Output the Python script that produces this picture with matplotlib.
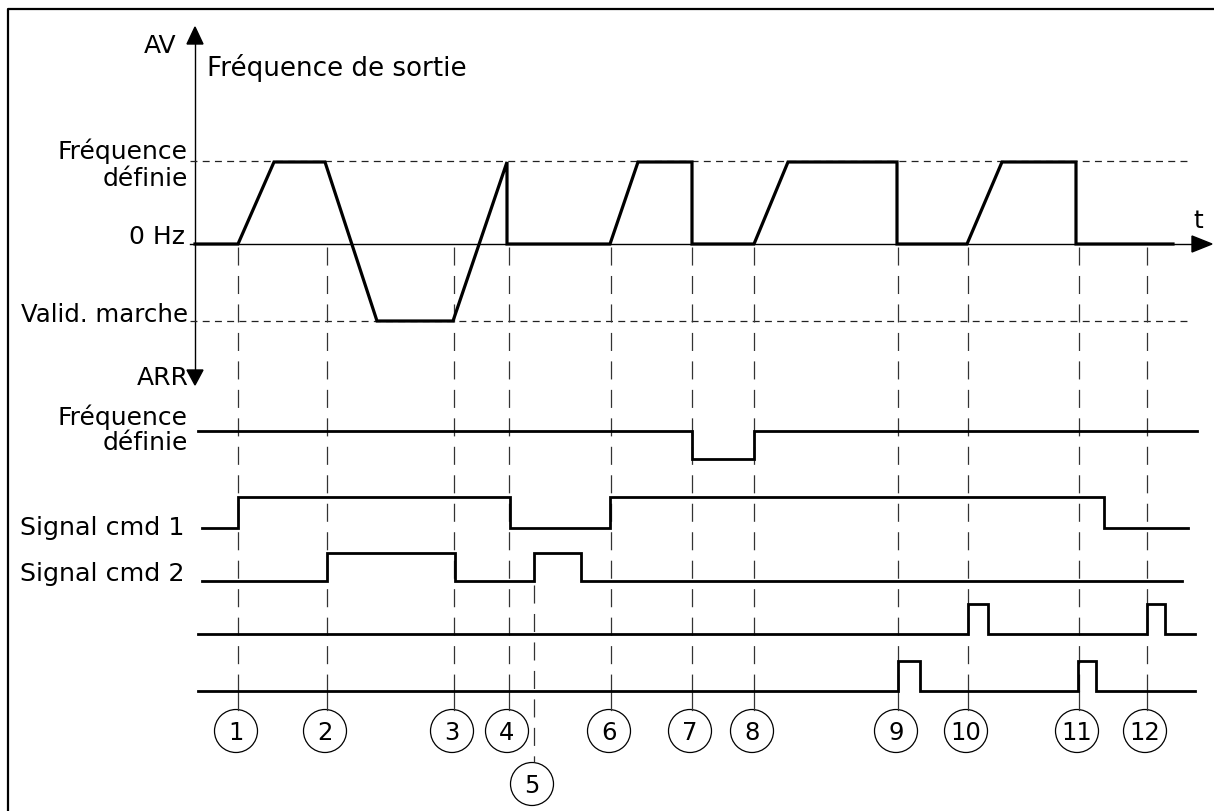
import matplotlib
matplotlib.use("Agg")
import matplotlib.pyplot as plt
from matplotlib.patches import Circle, Polygon

# time axis is in drawing units (left to right), events 1..12
EVENT_T = [238, 327, 454, 509, 534, 611, 692, 754, 898, 968, 1079, 1147]
EVENT_LABELS = ["1", "2", "3", "4", "5", "6", "7", "8", "9", "10", "11", "12"]

# output frequency: +1 = set frequency (AV), 0 = 0 Hz, -1 = reverse (ARR)
OUT_T = [195, 238, 274, 325, 377, 453, 507, 507, 610, 638, 692, 692,
         754, 788, 897, 897, 967, 1002, 1076, 1076, 1173]
OUT_F = [0, 0, 1, 1, -1, -1, 1, 0, 0, 1, 1, 0,
         0, 1, 1, 0, 0, 1, 1, 0, 0]

# digital signals: (start, end, initial state, toggle times)
REF_FREQ = (198, 1197, 1, [692, 754])
CMD1 = (202, 1188, 0, [238, 510, 610, 1104])
CMD2 = (202, 1182, 0, [327, 455, 534, 581])
DI4 = (198, 1195, 0, [968, 988, 1147, 1165])
DI5 = (198, 1195, 0, [898, 920, 1078, 1096])

plt.rcParams['font.family'] = ['DejaVu Sans']
plt.rcParams['lines.scale_dashes'] = False
FS = 18

fig = plt.figure(figsize=(12.14, 8.12), dpi=100)
ax = fig.add_axes([0, 0, 1, 1])
ax.set_xlim(0, 1214)
ax.set_ylim(812, 0)
ax.axis('off')

# frame (left and top edges only)
ax.plot([8, 8, 1214], [812, 10, 10], color='black', lw=1.6, solid_capstyle='butt')

Y0, Y_SET, Y_REV = 245, 163, 322


def freq_y(f):
    return Y0 - (Y0 - Y_SET) * f if f >= 0 else Y0 + (Y_REV - Y0) * (-f)


def step_trace(sig, y_low, y_high):
    start, end, state, toggles = sig
    xs, ys = [start], [y_high if state else y_low]
    for t in toggles:
        xs += [t, t]
        ys += [ys[-1], y_low if ys[-1] == y_high else y_high]
    xs.append(end)
    ys.append(ys[-1])
    return xs, ys


# vertical axis with arrows
ax.plot([195, 195], [44, 372], color='black', lw=1.0)
ax.add_patch(Polygon([[187, 45], [203, 45], [195, 28]], closed=True, color='black'))
ax.add_patch(Polygon([[187, 371], [203, 371], [195, 386]], closed=True, color='black'))

# time axis
ax.plot([190, 1194], [Y0, Y0], color='black', lw=1.0)
ax.add_patch(Polygon([[1192, 237], [1192, 253], [1212, 245]], closed=True, color='black'))

# reference levels
for y in (Y_SET - 1, Y_REV):
    ax.plot([190, 1188], [y, y], color='#222222', lw=0.9, linestyle=(0, (5, 3.8)))

# event markers
for t, lab in zip(EVENT_T, EVENT_LABELS):
    if lab == "5":
        y_top, y_dash_end, cy = 586, 763, 785
    else:
        y_top, y_dash_end, cy = 248, 692, 732
    ax.plot([t, t], [y_top, y_dash_end], color='#333333', lw=0.9,
            linestyle=(0, (13, 7.5)))
    if lab != "5":
        ax.plot([t, t], [692, cy - 21.5], color='#333333', lw=0.9)
    cx = t - 2
    ax.add_patch(Circle((cx, cy), 21.5, fill=False, ec='black', lw=0.9))
    ax.text(cx, cy + 1, lab, ha='center', va='center', fontsize=17.5)

# output frequency trace
ax.plot(OUT_T, [freq_y(f) for f in OUT_F], color='black', lw=2.3,
        solid_joinstyle='miter')

# digital traces
for sig, lo, hi in [(REF_FREQ, 460, 432), (CMD1, 529, 498), (CMD2, 582, 554),
                    (DI4, 635, 605), (DI5, 692, 662)]:
    xs, ys = step_trace(sig, lo, hi)
    ax.plot(xs, ys, color='black', lw=2.0, solid_joinstyle='miter')

# labels
ax.text(176, 53, "AV", ha='right', va='baseline', fontsize=FS)
ax.text(207, 76, "Fréquence de sortie", ha='left', va='baseline', fontsize=18.8)
ax.text(188, 159, "Fréquence", ha='right', va='baseline', fontsize=FS)
ax.text(188, 186, "définie", ha='right', va='baseline', fontsize=FS)
ax.text(185, 244, "0 Hz", ha='right', va='baseline', fontsize=FS)
ax.text(188, 322, "Valid. marche", ha='right', va='baseline', fontsize=17.6)
ax.text(189, 385, "ARR", ha='right', va='baseline', fontsize=FS)
ax.text(188, 425, "Fréquence", ha='right', va='baseline', fontsize=FS)
ax.text(188, 450, "définie", ha='right', va='baseline', fontsize=FS)
ax.text(185, 535, "Signal cmd 1", ha='right', va='baseline', fontsize=18.3)
ax.text(185, 581, "Signal cmd 2", ha='right', va='baseline', fontsize=18.3)
ax.text(1198, 228, "t", ha='center', va='baseline', fontsize=FS)

fig.savefig("out.png", dpi=100)
